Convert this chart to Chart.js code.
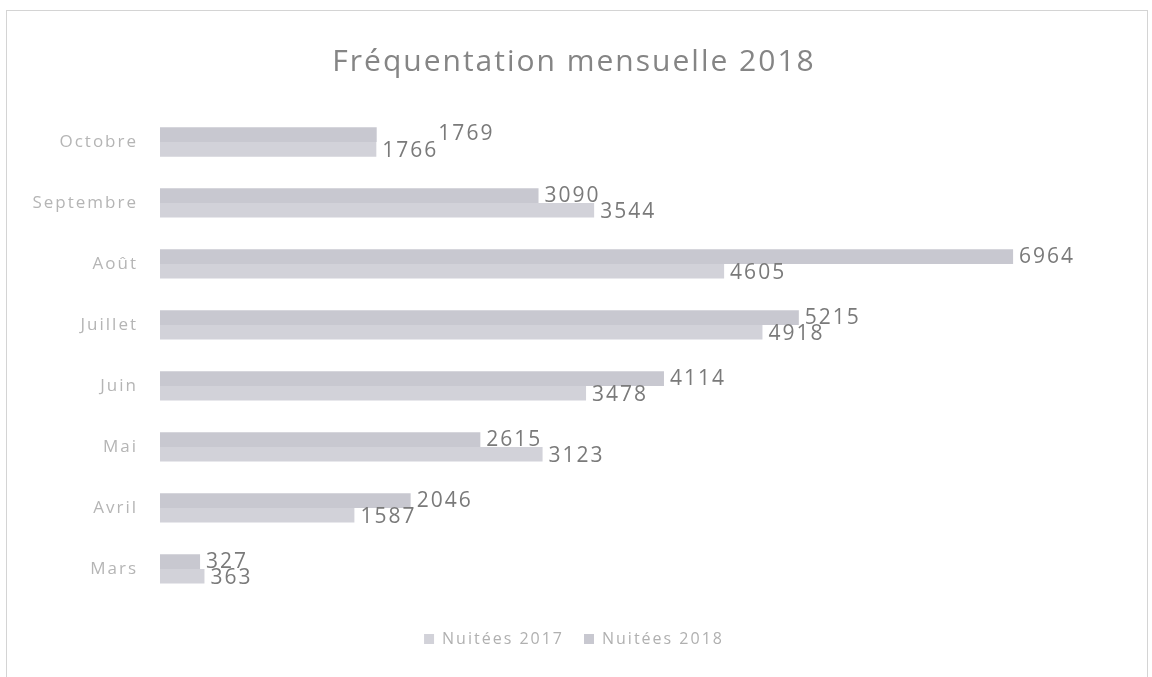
<!DOCTYPE html>
<html>
<head>
<meta charset="utf-8">
<script src="https://cdn.jsdelivr.net/npm/chart.js@4/dist/chart.umd.min.js"></script>
<style>
  html, body { margin: 0; padding: 0; background: #ffffff; }
  #wrap { position: relative; width: 1152px; height: 677px; overflow: hidden; }
  #frame { position: absolute; left: 6px; top: 10px; width: 1142px; height: 700px; border: 1px solid #d4d4d4; box-sizing: border-box; pointer-events: none; }
  canvas { position: absolute; left: 0; top: 0; }
</style>
</head>
<body>
<div id="wrap">
  <canvas id="c" width="1152" height="677"></canvas>
  <div id="frame"></div>
</div>
<script>
const categories = ['Octobre', 'Septembre', 'Août', 'Juillet', 'Juin', 'Mai', 'Avril', 'Mars'];
const nuitees2017 = [1766, 3544, 4605, 4918, 3478, 3123, 1587, 363];
const nuitees2018 = [1769, 3090, 6964, 5215, 4114, 2615, 2046, 327];
const seriesNames = ['Nuitées 2017', 'Nuitées 2018'];
const chartTitle = 'Fréquentation mensuelle 2018';

const FONT = "'Open Sans', 'DejaVu Sans', sans-serif";
const LABEL_SIZE = 21;
const SPACING = '2px';

const spacingPlugin = {
  id: 'spacing',
  beforeUpdate(chart) { chart.ctx.letterSpacing = SPACING; },
  beforeDraw(chart) { chart.ctx.letterSpacing = SPACING; }
};

const valueLabels = {
  id: 'valueLabels',
  afterDatasetsDraw(chart) {
    const ctx = chart.ctx;
    ctx.save();
    ctx.letterSpacing = SPACING;
    ctx.font = LABEL_SIZE + 'px ' + FONT;
    ctx.fillStyle = '#7a7a7a';
    ctx.textBaseline = 'middle';
    ctx.textAlign = 'left';
    const metaLow = chart.getDatasetMeta(1);   // Nuitées 2017 (lower bar)
    const metaUp = chart.getDatasetMeta(0);    // Nuitées 2018 (upper bar)
    const dsLow = chart.data.datasets[1].data;
    const dsUp = chart.data.datasets[0].data;
    metaLow.data.forEach((el, i) => {
      const tL = String(dsLow[i]);
      const xL = el.x + 6;
      ctx.fillText(tL, xL, el.y + 2);
      const up = metaUp.data[i];
      const tU = String(dsUp[i]);
      let xU = up.x + 6;
      let yU = up.y;
      if (Math.abs(xU - xL) < 10 && dsUp[i] >= dsLow[i]) {
        xU = xL + ctx.measureText(tL).width;
        yU = up.y - 1;
      }
      ctx.fillText(tU, xU, yU);
    });
    ctx.restore();
  }
};

new Chart(document.getElementById('c'), {
  type: 'bar',
  data: {
    labels: categories,
    datasets: [
      { label: seriesNames[1], data: nuitees2018, backgroundColor: '#c8c8d0', borderWidth: 0 },
      { label: seriesNames[0], data: nuitees2017, backgroundColor: '#d2d2d9', borderWidth: 0 }
    ]
  },
  options: {
    indexAxis: 'y',
    responsive: false,
    animation: false,
    events: [],
    layout: { padding: { top: 0, left: 8, right: 12, bottom: 20 } },
    datasets: { bar: { categoryPercentage: 0.48, barPercentage: 1.0 } },
    scales: {
      x: {
        min: 0, max: 8000,
        display: true,
        grid: { display: false, drawTicks: false },
        border: { display: false },
        ticks: { display: false },
        afterFit(scale) { scale.height = 11.6; }
      },
      y: {
        grid: { display: false, drawTicks: false },
        border: { display: false },
        ticks: { color: '#b5b5b5', font: { family: FONT, size: 17 }, padding: 22 },
        afterFit(scale) { scale.width = 152; }
      }
    },
    plugins: {
      title: {
        display: true,
        text: chartTitle,
        color: '#858585',
        font: { family: FONT, size: 30, weight: 'normal' },
        padding: { top: 44, bottom: 31.5 }
      },
      legend: {
        position: 'bottom',
        reverse: true,
        labels: {
          color: '#b0b0b0',
          font: { family: FONT, size: 16 },
          boxWidth: 10, boxHeight: 10,
          padding: 20
        }
      },
      tooltip: { enabled: false }
    }
  },
  plugins: [spacingPlugin, valueLabels]
});
</script>
</body>
</html>
